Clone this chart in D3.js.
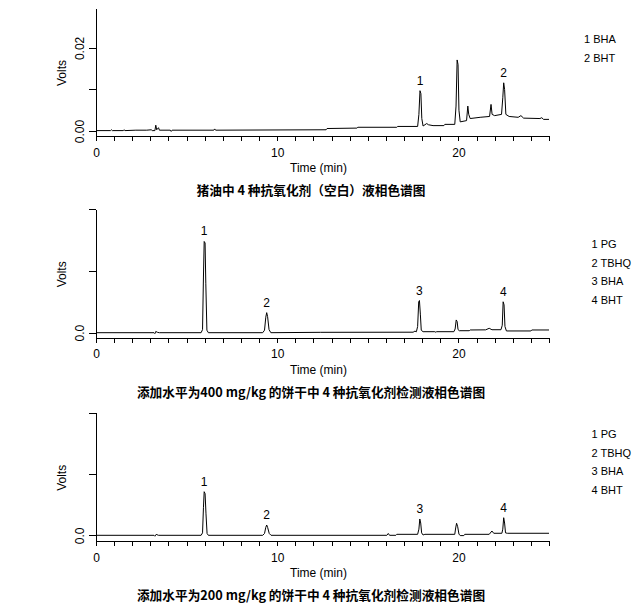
<!DOCTYPE html>
<html>
<head>
<meta charset="utf-8">
<script src="https://cdn.jsdelivr.net/npm/d3@7"></script>
<style>
  body { margin: 0; background: #fff; }
  svg { display: block; }
  .axis path, .axis line { stroke: #000; shape-rendering: crispEdges; }
  .axis text { font-family: "Liberation Sans", Arial, sans-serif; font-size: 12px; fill: #000; }
  .lbl { font-family: "Liberation Sans", Arial, sans-serif; font-size: 12px; fill: #000; }
  .legend { font-family: "Liberation Sans", Arial, sans-serif; font-size: 11px; fill: #000; }
  .caption { font-family: "Noto Sans CJK SC", sans-serif; font-size: 12.7px; font-weight: bold; fill: #000; }
  .trace { fill: none; stroke: #000; stroke-width: 1; }
</style>
</head>
<body>
<svg id="chart" width="640" height="612"></svg>
<script>
// Panel 1: lard blank
const times1 = [0, 0.8, 0.85, 0.9, 1.5, 1.55, 1.6, 2.2, 2.8, 3.05, 3.1, 3.25, 3.3, 3.35, 3.45, 3.5, 4.1, 4.15, 4.2,
  6.5, 6.55, 6.6, 12.7, 12.75, 14.4, 14.45, 16.6, 16.65, 17.75, 17.82, 17.88, 17.93, 17.98, 18.05, 18.25, 18.35,
  18.6, 19.2, 19.25, 19.8, 19.87, 19.93, 19.98, 20.03, 20.1, 20.45, 20.52, 20.57, 20.65, 21.2, 21.72, 21.8, 21.86,
  22.0, 22.38, 22.45, 22.5, 22.55, 22.62, 22.8, 23.3, 23.45, 23.6, 24.5, 24.6, 24.7, 25];
const volts1 = [0.0001, 0.0001, 0.0003, 0.0001, 0.0001, 0.0003, 0.0001, 0.0002, 0.0002, 0.0003, 0.0001, 0.0001, 0.0014,
  0.0003, 0.0008, 0.0002, 0.0002, -0.0001, 0.0002, 0.0002, 0.0005, 0.0002, 0.0003, 0.0006, 0.0007, 0.0009, 0.0009,
  0.0011, 0.0011, 0.0040, 0.0097, 0.0090, 0.0030, 0.0012, 0.0018, 0.0015, 0.0013, 0.0013, 0.0016, 0.0016, 0.0060,
  0.0171, 0.0160, 0.0050, 0.0022, 0.0025, 0.0060, 0.0040, 0.0030, 0.0033, 0.0035, 0.0064, 0.0040, 0.0037, 0.0040,
  0.0080, 0.0116, 0.0100, 0.0040, 0.0035, 0.0033, 0.0037, 0.0031, 0.0030, 0.0032, 0.0028, 0.0028];
const peaks1 = ["1", "2"];
const peakTimes1 = [17.88, 22.5];
const peakVolts1 = [0.0097, 0.0116];
const legend1 = ["1 BHA", "2 BHT"];
const yTicks1 = [0, 0.01, 0.02];
const yTickLabels1 = ["0.00", "", "0.02"];

// Panel 2: biscuit spiked at 400 mg/kg
const times2 = [0, 3.2, 3.25, 3.3, 3.4, 3.5, 5.8, 5.88, 5.93, 5.97, 6.02, 6.06, 6.12, 6.2, 9.2, 9.3, 9.37, 9.42,
  9.47, 9.55, 9.65, 12.4, 17.5, 17.6, 17.68, 17.75, 17.81, 17.85, 17.9, 17.95, 18.05, 18.7, 18.75, 18.8, 19.75,
  19.82, 19.88, 19.93, 19.98, 20.05, 20.6, 20.65, 21.5, 21.7, 21.85, 22.35, 22.42, 22.47, 22.52, 22.57, 22.65,
  24.0, 24.05, 25];
const volts2 = [0, 0, -0.0015, 0.002, 0.0005, 0, 0, 0.005, 0.09, 0.1475, 0.145, 0.08, 0.004, 0, 0, 0.004, 0.025,
  0.0324, 0.026, 0.005, 0, 0.0006, 0.0008, 0.0025, 0.0015, 0.01, 0.05, 0.052, 0.03, 0.004, 0.0016, 0.0016, 0.0008,
  0.0016, 0.0016, 0.006, 0.0206, 0.018, 0.005, 0.0032, 0.0032, 0.0044, 0.0046, 0.0071, 0.0048, 0.0048, 0.012,
  0.050, 0.045, 0.010, 0.0028, 0.0028, 0.0044, 0.0044];
const peaks2 = ["1", "2", "3", "4"];
const peakTimes2 = [5.97, 9.42, 17.84, 22.48];
const peakVolts2 = [0.1475, 0.0324, 0.052, 0.050];
const legend2 = ["1 PG", "2 TBHQ", "3 BHA", "4 BHT"];
const yTicks2 = [0, 0.1, 0.2];
const yTickLabels2 = ["0.0", "", ""];

// Panel 3: biscuit spiked at 200 mg/kg
const times3 = [0, 3.2, 3.25, 3.32, 3.45, 5.8, 5.88, 5.93, 5.97, 6.02, 6.07, 6.13, 6.2, 9.2, 9.3, 9.37, 9.42, 9.47,
  9.56, 9.66, 16.05, 16.13, 16.2, 16.55, 16.6, 17.75, 17.82, 17.87, 17.92, 17.97, 18.05, 18.15, 19.8, 19.85, 19.9,
  19.96, 20.03, 20.1, 20.3, 20.35, 21.7, 21.85, 21.95, 22.4, 22.45, 22.5, 22.55, 22.6, 22.7, 25];
const volts3 = [0, 0, -0.0015, 0.0015, 0, 0, 0.004, 0.045, 0.0711, 0.068, 0.035, 0.003, 0, 0, 0.003, 0.013, 0.0168,
  0.013, 0.003, 0, 0, 0.003, 0, 0, 0.0016, 0.0016, 0.01, 0.0266, 0.02, 0.004, 0.0005, 0.0016, 0.0016, 0.012, 0.0196,
  0.014, 0.002, -0.0005, -0.0005, 0.0016, 0.0016, 0.007, 0.0033, 0.0033, 0.010, 0.0287, 0.020, 0.004, 0.0033, 0.0033];
const peaks3 = ["1", "2", "3", "4"];
const peakTimes3 = [5.97, 9.42, 17.87, 22.5];
const peakVolts3 = [0.0711, 0.0168, 0.0266, 0.0287];
const legend3 = ["1 PG", "2 TBHQ", "3 BHA", "4 BHT"];
const yTicks3 = [0, 0.1, 0.2];
const yTickLabels3 = ["0.0", "", ""];

const captions = [
  "猪油中 4 种抗氧化剂（空白）液相色谱图",
  "添加水平为400 mg/kg 的饼干中 4 种抗氧化剂检测液相色谱图",
  "添加水平为200 mg/kg 的饼干中 4 种抗氧化剂检测液相色谱图"
];
const timeTicks = d3.range(0, 26);

const svg = d3.select("#chart");
const x = d3.scaleLinear().domain([0, 25]).range([96, 549]);

function drawPanel(p) {
  const y = d3.scaleLinear().domain(p.yDomain).range([p.bottom, p.top]);
  const g = svg.append("g");

  // y axis
  const yAxis = g.append("g")
      .attr("class", "axis")
      .attr("transform", `translate(${x(0)},0)`)
      .call(d3.axisLeft(y).tickValues(p.yTicks).tickSize(7).tickSizeOuter(0).tickFormat(""));
  yAxis.selectAll(".tick")
    .append("text")
      .attr("transform", "translate(-12.5,0) rotate(-90)")
      .attr("text-anchor", "middle")
      .attr("fill", "#000")
      .text((d, i) => p.yTickLabels[i]);

  // x axis
  g.append("g")
      .attr("class", "axis")
      .attr("transform", `translate(0,${p.bottom})`)
      .call(d3.axisBottom(x).tickValues(timeTicks).tickSize(5).tickSizeOuter(0).tickPadding(7)
        .tickFormat(d => d % 10 === 0 ? d : ""));

  g.append("text")
      .attr("class", "lbl")
      .attr("transform", `translate(66,${(p.top + p.bottom) / 2 + 1}) rotate(-90)`)
      .attr("text-anchor", "middle")
      .text("Volts");

  g.append("text")
      .attr("class", "lbl")
      .attr("x", (x(0) + x(25)) / 2 - 4)
      .attr("y", p.bottom + 36)
      .attr("text-anchor", "middle")
      .text("Time (min)");

  g.append("text")
      .attr("class", "caption")
      .attr("x", 311)
      .attr("y", p.bottom + 59)
      .attr("text-anchor", "middle")
      .text(p.caption);

  // trace
  const line = d3.line()
      .x(i => x(p.times[i]))
      .y(i => y(p.volts[i]));
  g.append("path")
      .attr("class", "trace")
      .attr("d", line(d3.range(p.times.length)));

  // peak numbers
  g.selectAll(".peak")
    .data(p.peaks)
    .join("text")
      .attr("class", "lbl")
      .attr("x", (d, i) => x(p.peakTimes[i]))
      .attr("y", (d, i) => y(p.peakVolts[i]) - 6)
      .attr("text-anchor", "middle")
      .text(d => d);

  // legend
  g.selectAll(".legend")
    .data(p.legend)
    .join("text")
      .attr("class", "legend")
      .attr("x", p.legendX)
      .attr("y", (d, i) => p.legendY + i * p.legendStep)
      .text(d => d);
}

drawPanel({
  top: 8, bottom: 136, yDomain: [-0.0012, 0.0296],
  yTicks: yTicks1, yTickLabels: yTickLabels1,
  times: times1, volts: volts1,
  peaks: peaks1, peakTimes: peakTimes1, peakVolts: peakVolts1,
  legend: legend1, legendX: 584, legendY: 42.5, legendStep: 19,
  caption: captions[0]
});

drawPanel({
  top: 209, bottom: 337.7, yDomain: [-0.0081, 0.2],
  yTicks: yTicks2, yTickLabels: yTickLabels2,
  times: times2, volts: volts2,
  peaks: peaks2, peakTimes: peakTimes2, peakVolts: peakVolts2,
  legend: legend2, legendX: 591.5, legendY: 248, legendStep: 18.5,
  caption: captions[1]
});

drawPanel({
  top: 412.7, bottom: 541, yDomain: [-0.0093, 0.2],
  yTicks: yTicks3, yTickLabels: yTickLabels3,
  times: times3, volts: volts3,
  peaks: peaks3, peakTimes: peakTimes3, peakVolts: peakVolts3,
  legend: legend3, legendX: 591.5, legendY: 438, legendStep: 18.7,
  caption: captions[2]
});
</script>
</body>
</html>
